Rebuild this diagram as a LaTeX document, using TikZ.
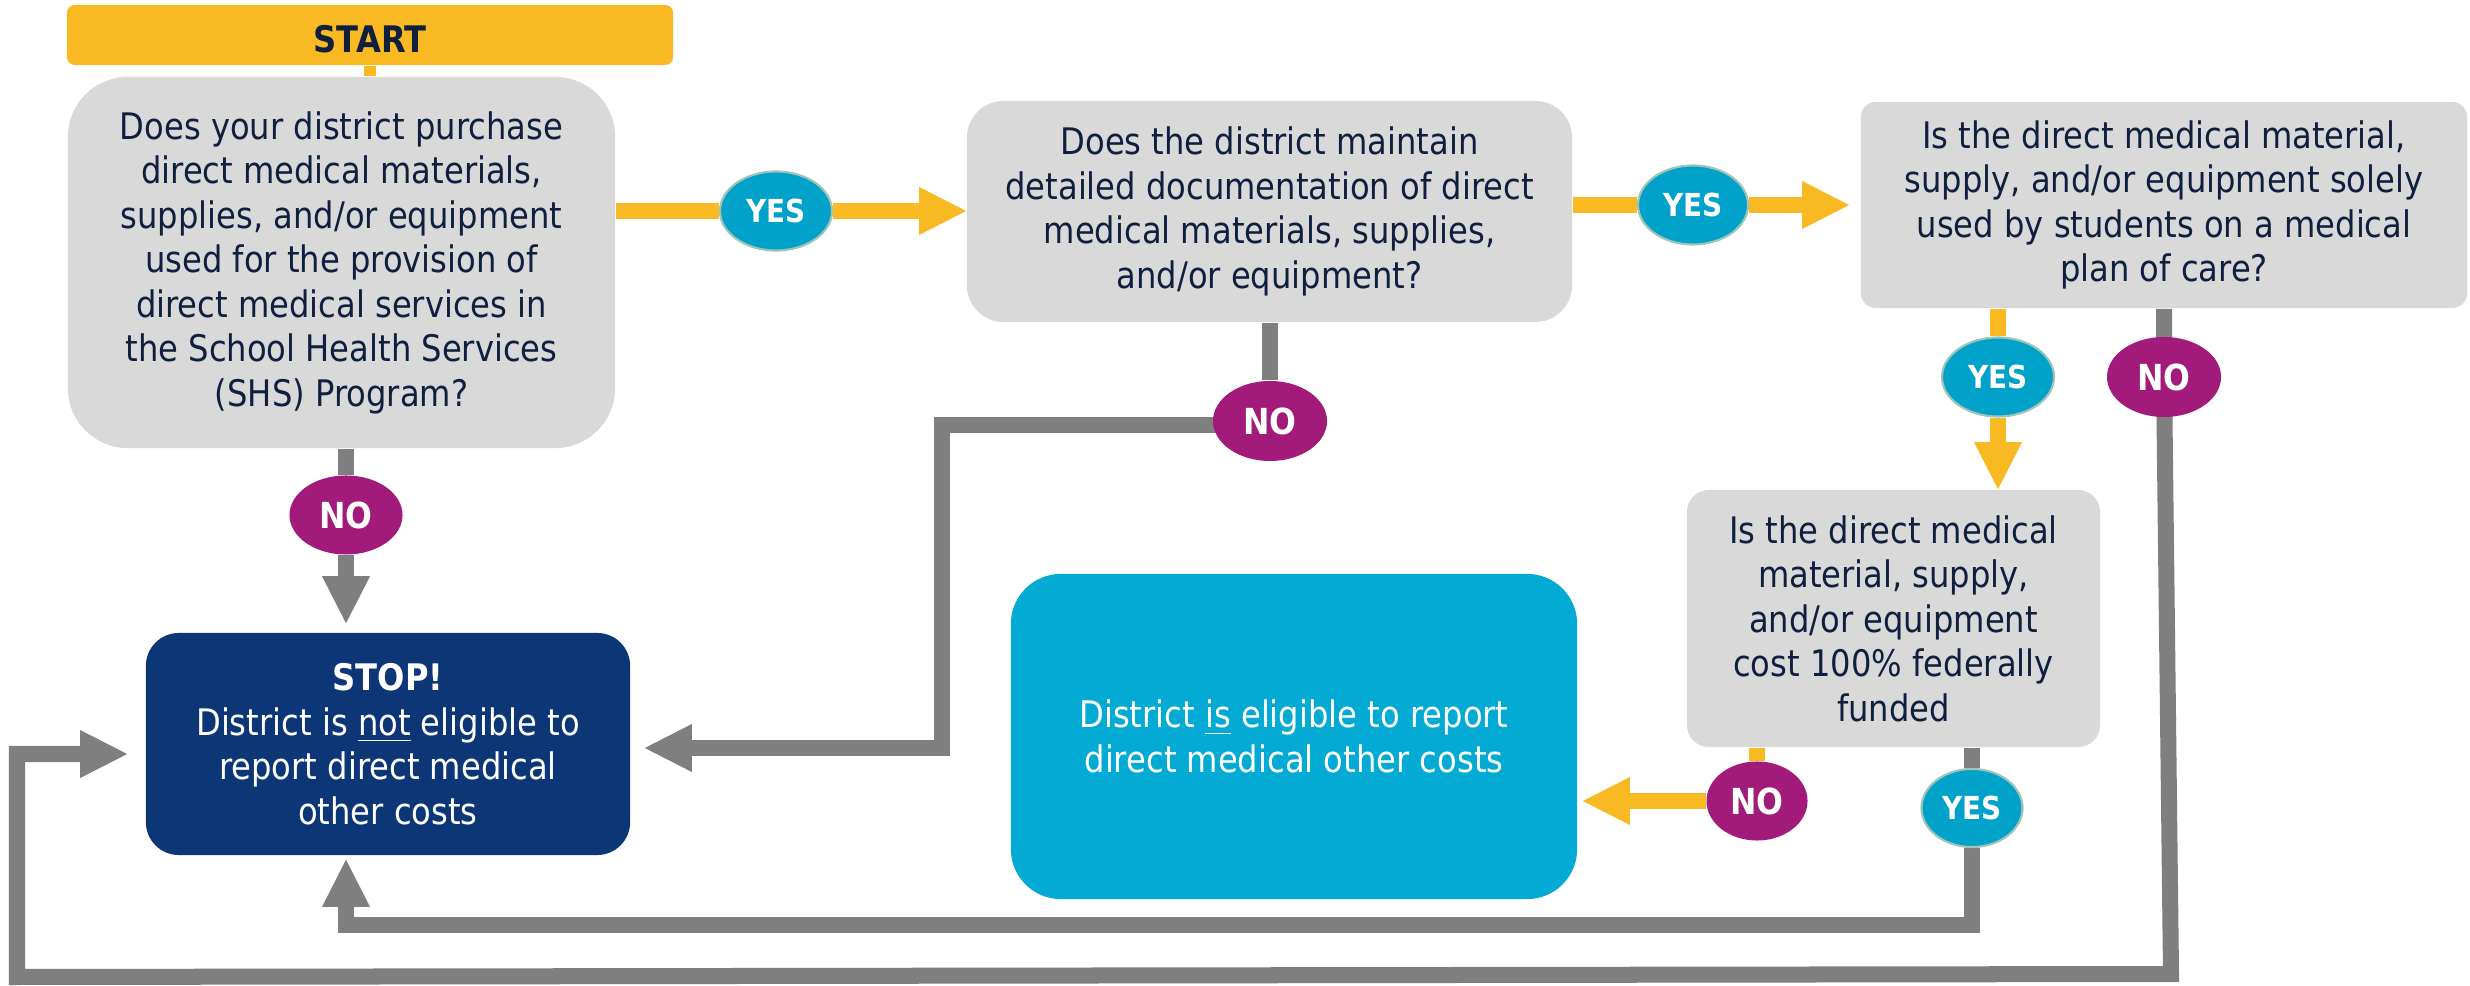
\documentclass[tikz,border=0pt]{standalone}
\usepackage{fontspec}
\setmainfont{DejaVu Sans}[FakeStretch=0.88]
\usetikzlibrary{shapes.geometric,arrows.meta}

\definecolor{flowyellow}{HTML}{F9B922}
\definecolor{flowgray}{HTML}{7F7F7F}
\definecolor{boxgray}{HTML}{D9D9D9}
\definecolor{darknavy}{HTML}{0F1F3D}
\definecolor{stopblue}{HTML}{0D3677}
\definecolor{okcyan}{HTML}{02AAD4}
\definecolor{yesblue}{HTML}{00A2CA}
\definecolor{yesedge}{HTML}{9EC5B8}
\definecolor{nopurple}{HTML}{A21B7B}

\newcommand{\txtfont}{\fontsize{10.4}{12.66}\selectfont}
\newcommand{\nofont}{\fontsize{10.2}{12}\selectfont\bfseries}
\newcommand{\yesfont}{\fontsize{9}{11}\selectfont\bfseries}

\pgfdeclarelayer{wires}
\pgfsetlayers{wires,main}

\begin{document}
\begin{tikzpicture}[x=0.01cm,y=-0.01cm,
  box/.style={inner sep=0pt, align=center, font=\txtfont},
  qbox/.style={box, fill=boxgray, text=darknavy},
  endbox/.style={box, text=white},
  yesnode/.style={ellipse, fill=yesblue, draw=yesedge, line width=0.6pt,
    text=white, font=\yesfont, inner sep=0pt,
    minimum width=1.12cm, minimum height=0.79cm},
  nonode/.style={ellipse, fill=nopurple, text=white, font=\nofont,
    inner sep=0pt, minimum width=1.14cm, minimum height=0.8cm},
  gline/.style={draw=flowgray, line width=0.16cm},
  yline/.style={draw=flowyellow, line width=0.16cm},
  headtip/.style={-{Triangle[length=0.47cm,width=0.48cm,line width=0pt]}}
]
\useasboundingbox (0,0) rectangle (2470,986);

% boxes
\node[box, fill=flowyellow, text=darknavy, minimum width=6.06cm, minimum height=0.6cm,
  rounded corners=0.08cm, text height=0.36cm, font=\txtfont\bfseries] (start) at (370,35) {START};

\node[qbox, minimum width=5.47cm, minimum height=3.71cm, rounded corners=0.6cm] (q1) at (341.5,262.5)
  {Does your district purchase\\ direct medical materials,\\ supplies, and/or equipment\\
   used for the provision of\\ direct medical services in\\ the School Health Services\\ (SHS) Program?};

\node[qbox, minimum width=6.05cm, minimum height=2.21cm, rounded corners=0.37cm] (q2) at (1269.5,211.5)
  {Does the district maintain\\ detailed documentation of direct\\ medical materials, supplies,\\ and/or equipment?};

\node[qbox, minimum width=6.06cm, minimum height=2.06cm, rounded corners=0.15cm] (q3) at (2164,205)
  {Is the direct medical material,\\ supply, and/or equipment solely\\ used by students on a medical\\ plan of care?};

\node[qbox, minimum width=4.13cm, minimum height=2.57cm, rounded corners=0.22cm] (q4) at (1893.5,618.5)
  {Is the direct medical\\ material, supply,\\ and/or equipment\\ cost 100\% federally\\ funded};

\node[endbox, fill=stopblue, minimum width=4.84cm, minimum height=2.22cm, rounded corners=0.33cm] (stop) at (388,744)
  {\textbf{STOP!}\\ District is \underline{not} eligible to\\ report direct medical\\ other costs};

\node[endbox, fill=okcyan, minimum width=5.66cm, minimum height=3.25cm, rounded corners=0.5cm] (elig) at (1294,736.5)
  {District \underline{is} eligible to report\\ direct medical other costs};

% answer markers
\node[yesnode] (yes1) at (776,211) {YES};
\node[yesnode, minimum width=1.10cm] (yes2) at (1693,205) {YES};
\node[yesnode] (yes3) at (1998,377) {YES};
\node[yesnode, minimum width=1.01cm, minimum height=0.78cm] (yes4) at (1972,808) {YES};
\node[nonode, minimum width=1.13cm, minimum height=0.79cm] (no1) at (346,515) {NO};
\node[nonode] (no2) at (1270,421) {NO};
\node[nonode] (no3) at (2164,377) {NO};
\node[nonode, minimum width=1.01cm, minimum height=0.79cm] (no4) at (1757,801) {NO};

% bends of the connectors
\coordinate (k2) at (942,425);
\coordinate (k3) at (942,748);
\coordinate (k4) at (2171,974);
\coordinate (k5) at (17,977);
\coordinate (k6) at (17,754);
\coordinate (k7) at (346,925);

\begin{pgfonlayer}{wires}
\fill[white] (0,0) rectangle (2470,986);
% yellow flow
\draw[yline, line width=0.12cm] (start.south) -- (start.south |- q1.north);
\draw[yline] (q1.east |- yes1) -- (yes1);
\draw[yline, headtip] (yes1) -- (q2.west |- yes1);
\draw[yline] (q2.east |- yes2) -- (yes2);
\draw[yline, headtip, shorten >=0.11cm] (yes2) -- (q3.west |- yes2);
\draw[yline] (yes3 |- q3.south) -- (yes3);
\draw[yline, headtip] (yes3) -- (yes3 |- q4.north);
\draw[yline] (no4 |- q4.south) -- (no4);
\draw[yline, headtip, shorten >=0.05cm] (no4) -- (elig.east |- no4);
% gray flow to STOP
\draw[gline] (no1 |- q1.south) -- (no1);
\draw[gline, headtip, shorten >=0.09cm] (no1) -- (no1 |- stop.north);
\draw[gline] (no2 |- q2.south) -- (no2);
\draw[gline, headtip, shorten >=0.14cm] (no2 |- k2) -- (k2) -- (k3) -- (stop.east |- k3);
\draw[gline, headtip, shorten >=0.18cm] (no3 |- q3.south) -- (no3.center) -- (k4) -- (k5) -- (k6) -- (stop.west |- k6);
\draw[gline] (yes4 |- q4.south) -- (yes4);
\draw[gline, headtip, shorten >=0.04cm] (yes4) -- (yes4 |- k7) -- (k7) -- (k7 |- stop.south);
\end{pgfonlayer}
\end{tikzpicture}
\end{document}
